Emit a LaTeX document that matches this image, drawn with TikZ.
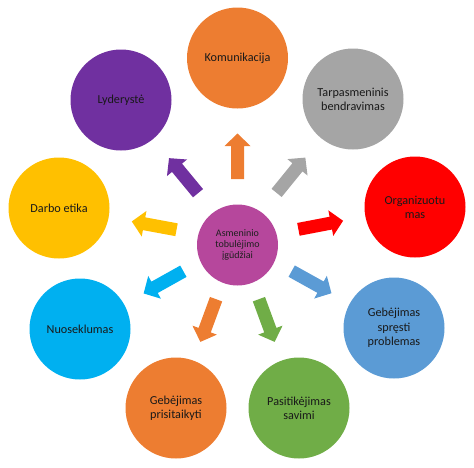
\documentclass[tikz,border=0pt]{standalone}
\usepackage{fontspec}
\setmainfont{Carlito}
\usetikzlibrary{calc}
\definecolor{cOrange}{HTML}{ED7D31}
\definecolor{cGray}{HTML}{A5A5A5}
\definecolor{cRed}{HTML}{FF0000}
\definecolor{cBlue}{HTML}{5B9BD5}
\definecolor{cGreen}{HTML}{70AD47}
\definecolor{cCyan}{HTML}{00B0F0}
\definecolor{cGold}{HTML}{FFC000}
\definecolor{cPurple}{HTML}{7030A0}
\definecolor{cMagenta}{HTML}{B6479C}
\newcommand\blkarrow[2]{%
  \coordinate (ab) at ($(ac)!62pt!(#2)$);
  \coordinate (an) at ($(ac)!95pt!(#2)$);
  \coordinate (ap) at ($(ac)!107.5pt!(#2)$);
  \fill[#1] ($(ab)!6.5pt!90:(ap)$) -- ($(an)!6.5pt!90:(ap)$) -- ($(an)!13pt!90:(ap)$) -- (ap)
    -- ($(an)!13pt!-90:(ap)$) -- ($(an)!6.5pt!-90:(ap)$) -- ($(ab)!6.5pt!-90:(ap)$) -- cycle;
}
\begin{document}
\begin{tikzpicture}[x=1pt,y=-1pt,
  outer/.style={circle, minimum size=101pt, inner sep=0pt, align=center,
    font=\fontsize{12.2}{14.3}\selectfont, text=black!90},
  hub/.style={circle, minimum size=81pt, inner sep=0pt, align=center,
    font=\fontsize{10}{10.6}\selectfont, text=black!88, fill=cMagenta}]
\useasboundingbox (0,0) rectangle (474,467);
\node[hub] (c) at (237.5,245) {Asmeninio\\tobulėjimo\\įgūdžiai};
\node[outer, fill=cOrange] (kom) at (237.5,58) {Komunikacija};
\node[outer, fill=cGray] (tarp) at (353,99) {Tarpasmeninis\\bendravimas};
\node[outer, fill=cRed] (org) at (415,207) {Organizuotu\\mas};
\node[outer, fill=cBlue] (spr) at (394,328) {Gebėjimas\\spręsti\\problemas};
\node[outer, fill=cGreen] (pas) at (299,408) {Pasitikėjimas\\savimi};
\node[outer, fill=cOrange] (pri) at (176,408) {Gebėjimas\\prisitaikyti};
\node[outer, fill=cCyan] (nuo) at (80,329) {Nuoseklumas};
\node[outer, fill=cGold] (dar) at (59,208) {Darbo etika};
\node[outer, fill=cPurple] (lyd) at (121,100) {Lyderystė};
\coordinate (ac) at (237.5,241);
\blkarrow{cOrange}{kom}
\blkarrow{cGray}{tarp}
\blkarrow{cRed}{org}
\blkarrow{cBlue}{spr}
\blkarrow{cGreen}{pas}
\blkarrow{cOrange}{pri}
\blkarrow{cCyan}{nuo}
\blkarrow{cGold}{dar}
\blkarrow{cPurple}{lyd}
\end{tikzpicture}
\end{document}
